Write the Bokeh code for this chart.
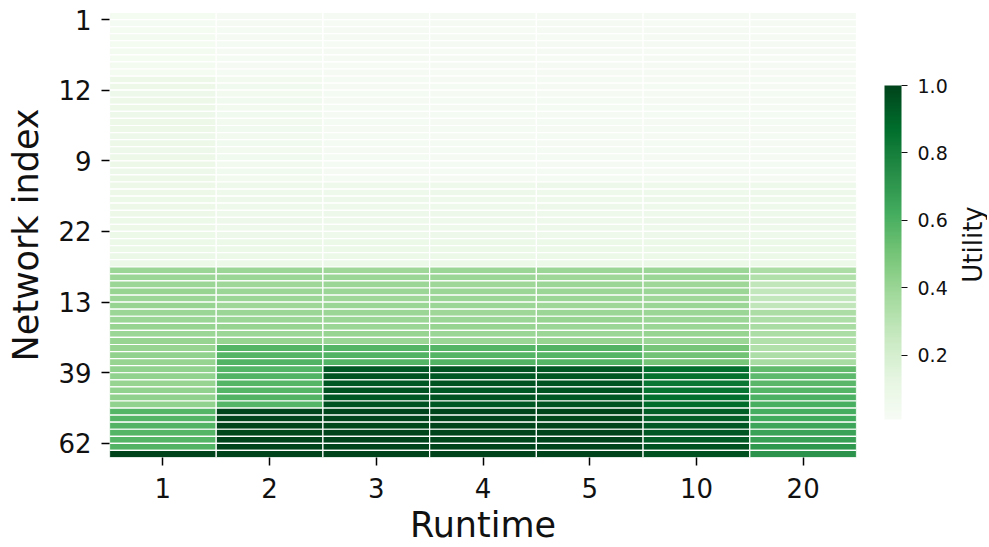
import numpy as np
from bokeh.plotting import figure
from bokeh.layouts import row
from bokeh.models import (ColumnDataSource, LinearColorMapper, ColorBar, FixedTicker,
                          PrintfTickFormatter, Label)
from bokeh.embed import file_html
from bokeh.resources import INLINE

runtimes = ["1", "2", "3", "4", "5", "10", "20"]
n_rows = 63
ytick_rows = [1, 11, 21, 31, 41, 51, 61]
ytick_labels = ["1", "12", "9", "22", "13", "39", "62"]

util_1 = [0.035, 0.03, 0.035, 0.04, 0.035, 0.04, 0.035, 0.04, 0.035,
          0.08, 0.08, 0.075, 0.08, 0.08, 0.075, 0.08, 0.08, 0.075, 0.08, 0.075, 0.08, 0.08, 0.075, 0.08,
          0.08, 0.08, 0.085, 0.08, 0.08, 0.085, 0.08, 0.085, 0.09, 0.09, 0.095, 0.09,
          0.40, 0.40, 0.40, 0.41, 0.40, 0.41, 0.40, 0.40, 0.41, 0.40, 0.41, 0.41, 0.42, 0.41, 0.42, 0.42, 0.41, 0.42, 0.43, 0.42,
          0.58, 0.58, 0.59, 0.58, 0.58, 0.59,
          1.0]
util_2 = [0.025, 0.025, 0.03, 0.025, 0.03, 0.025, 0.03, 0.025, 0.03,
          0.045, 0.05, 0.045, 0.05, 0.045, 0.05, 0.045, 0.05, 0.045, 0.05, 0.045, 0.05, 0.045, 0.05, 0.045,
          0.07, 0.07, 0.075, 0.07, 0.07, 0.075, 0.07, 0.075, 0.085, 0.085, 0.09, 0.085,
          0.40, 0.40, 0.39, 0.40, 0.40, 0.39, 0.40, 0.40, 0.41, 0.40, 0.41,
          0.58, 0.58, 0.59, 0.58, 0.59, 0.58, 0.58, 0.59, 0.58,
          1.0, 1.0, 1.0, 0.99, 1.0, 1.0, 1.0]
util_3 = [0.025, 0.02, 0.025, 0.025, 0.02, 0.025, 0.025, 0.02, 0.025, 0.03, 0.025, 0.03,
          0.025, 0.03, 0.025, 0.03, 0.025, 0.03, 0.03, 0.025, 0.03, 0.03, 0.025, 0.03,
          0.07, 0.07, 0.075, 0.07, 0.075, 0.07, 0.075, 0.07, 0.085, 0.085, 0.09, 0.085,
          0.39, 0.40, 0.40, 0.40, 0.39, 0.40, 0.40, 0.40, 0.40, 0.41, 0.40,
          0.58, 0.59, 0.58,
          0.94, 0.95, 0.94, 0.95, 0.94, 0.95,
          1.0, 1.0, 0.99, 1.0, 1.0, 1.0, 1.0]
util_4 = [0.025, 0.025, 0.02, 0.025, 0.025, 0.02, 0.025, 0.025, 0.02, 0.025, 0.03, 0.025,
          0.03, 0.025, 0.03, 0.025, 0.03, 0.025, 0.03, 0.03, 0.025, 0.03, 0.03, 0.025,
          0.07, 0.075, 0.07, 0.07, 0.075, 0.07, 0.07, 0.075, 0.085, 0.09, 0.085, 0.09,
          0.40, 0.40, 0.39, 0.40, 0.40, 0.40, 0.39, 0.40, 0.41, 0.40, 0.40,
          0.58, 0.58, 0.59,
          0.95, 0.94, 0.95, 0.94, 0.95, 0.94,
          1.0, 1.0, 1.0, 1.0, 0.99, 1.0, 1.0]
util_5 = [0.025, 0.025, 0.025, 0.02, 0.025, 0.025, 0.02, 0.025, 0.025, 0.03, 0.025, 0.025,
          0.03, 0.03, 0.025, 0.03, 0.025, 0.03, 0.025, 0.03, 0.03, 0.025, 0.03, 0.03,
          0.075, 0.07, 0.07, 0.075, 0.07, 0.07, 0.075, 0.07, 0.09, 0.085, 0.085, 0.09,
          0.40, 0.39, 0.40, 0.40, 0.40, 0.39, 0.40, 0.41, 0.40, 0.40, 0.41,
          0.59, 0.58, 0.58,
          0.94, 0.94, 0.95, 0.95, 0.94, 0.95,
          1.0, 0.99, 1.0, 1.0, 1.0, 1.0, 1.0]
util_10 = [0.025, 0.02, 0.025, 0.025, 0.025, 0.02, 0.025, 0.025, 0.025, 0.025, 0.03, 0.025,
           0.025, 0.03, 0.03, 0.025, 0.03, 0.025, 0.03, 0.03, 0.025, 0.03, 0.025, 0.03,
           0.07, 0.07, 0.075, 0.07, 0.07, 0.075, 0.07, 0.075, 0.085, 0.09, 0.085, 0.085,
           0.40, 0.40, 0.39, 0.40, 0.39, 0.40, 0.40, 0.40, 0.40, 0.41, 0.40,
           0.50, 0.51, 0.50,
           0.87, 0.86, 0.84, 0.85, 0.87, 0.88,
           0.92, 0.92, 0.94, 0.94, 0.93, 0.95, 0.96]
util_20 = [0.025, 0.025, 0.02, 0.025, 0.025, 0.025, 0.02, 0.025, 0.025, 0.03, 0.025, 0.03,
           0.025, 0.025, 0.03, 0.03, 0.025, 0.03, 0.025, 0.03, 0.025, 0.03, 0.03, 0.025,
           0.07, 0.075, 0.07, 0.07, 0.07, 0.075, 0.07, 0.07, 0.085, 0.085, 0.09, 0.09,
           0.35, 0.33, 0.28, 0.27, 0.27, 0.28, 0.35, 0.34, 0.36, 0.35, 0.33, 0.33, 0.34, 0.36,
           0.55, 0.56, 0.57, 0.58, 0.60, 0.61, 0.62, 0.63, 0.65, 0.66, 0.67, 0.70, 0.72]

columns = [util_1, util_2, util_3, util_4, util_5, util_10, util_20]
vmin, vmax = 0.01, 1.0
cbar_ticks = [0.2, 0.4, 0.6, 0.8, 1.0]

# matplotlib "Greens" (ColorBrewer) interpolated to 256 steps
greens9 = ['#f7fcf5', '#e5f5e0', '#c7e9c0', '#a1d99b', '#74c476', '#41ab5d', '#238b45', '#006d2c', '#00441b']
rgb = np.array([[int(c[i:i + 2], 16) for i in (1, 3, 5)] for c in greens9], dtype=float)
pos = np.linspace(0, 1, len(greens9))
t = np.linspace(0, 1, 256)
palette = ['#%02x%02x%02x' % tuple(int(round(np.interp(tt, pos, rgb[:, k]))) for k in range(3)) for tt in t]

xs, ys, vals = [], [], []
for ci, col in enumerate(columns):
    for ri, v in enumerate(col):
        xs.append(ci + 0.5)
        ys.append(ri + 0.5)
        vals.append(v)
src = ColumnDataSource(dict(x=xs, y=ys, v=vals))

mapper = LinearColorMapper(palette=palette, low=vmin, high=vmax)

FONT = "DejaVu Sans"
H = 547
p = figure(width=950, height=H, x_range=(0, len(runtimes)), y_range=(n_rows, 0),
           output_backend="svg", toolbar_location=None,
           min_border_left=109, min_border_right=92, min_border_top=12, min_border_bottom=89)
p.rect(x="x", y="y", width=1, height=1, source=src,
       fill_color={"field": "v", "transform": mapper}, line_color="white", line_width=1.2)

p.outline_line_color = None
p.xgrid.visible = False
p.ygrid.visible = False

p.xaxis.ticker = FixedTicker(ticks=[i + 0.5 for i in range(len(runtimes))])
p.xaxis.major_label_overrides = {i + 0.5: lab for i, lab in enumerate(runtimes)}
p.yaxis.ticker = FixedTicker(ticks=ytick_rows)
p.yaxis.major_label_overrides = {r: lab for r, lab in zip(ytick_rows, ytick_labels)}

for ax in (p.xaxis, p.yaxis):
    ax.axis_line_color = None
    ax.major_tick_in = 0
    ax.major_tick_out = 8
    ax.major_tick_line_width = 1.5
    ax.minor_tick_line_color = None
    ax.major_label_text_font = FONT
    ax.major_label_text_font_size = "26px"
    ax.major_label_text_color = "#111111"
    ax.axis_label_text_font = FONT
    ax.axis_label_text_font_size = "35px"
    ax.axis_label_text_font_style = "normal"
    ax.axis_label_text_color = "#111111"

p.xaxis.axis_label = "Runtime"
p.yaxis.axis_label = "Network index"
p.xaxis.major_label_standoff = 12
p.yaxis.major_label_standoff = 10
p.xaxis.axis_label_standoff = 4
p.yaxis.axis_label_standoff = 9
p.yaxis.major_label_orientation = "horizontal"

cb = ColorBar(color_mapper=mapper, ticker=FixedTicker(ticks=cbar_ticks),
              formatter=PrintfTickFormatter(format="%.1f"),
              width=17, height=334, location=(28, 38), padding=0, margin=0,
              major_label_text_font=FONT, major_label_text_font_size="19px",
              major_label_text_color="#111111",
              major_tick_in=0, major_tick_out=6, major_tick_line_color="#111111",
              major_tick_line_width=1.2, minor_tick_line_color=None,
              bar_line_color=None, border_line_color=None, background_fill_color=None,
              label_standoff=10)
p.add_layout(cb, "right")

# narrow companion canvas holding the colour-bar title
p2 = figure(width=37, height=H, x_range=(0, 1), y_range=(0, 1),
            output_backend="svg", toolbar_location=None,
            x_axis_location=None, y_axis_location=None,
            min_border_left=0, min_border_right=0, min_border_top=0, min_border_bottom=0)
p2.outline_line_color = None
p2.xgrid.visible = False
p2.ygrid.visible = False
lab = Label(x=22, y=H - 243 - 91, x_units="screen", y_units="screen", text="Utility",
            angle=np.pi / 2, text_align="center", text_baseline="middle",
            text_font=FONT, text_font_size="26px", text_color="#111111")
p2.add_layout(lab)

layout = row(p, p2, spacing=0)
open("out.html", "w").write(file_html(layout, INLINE))
